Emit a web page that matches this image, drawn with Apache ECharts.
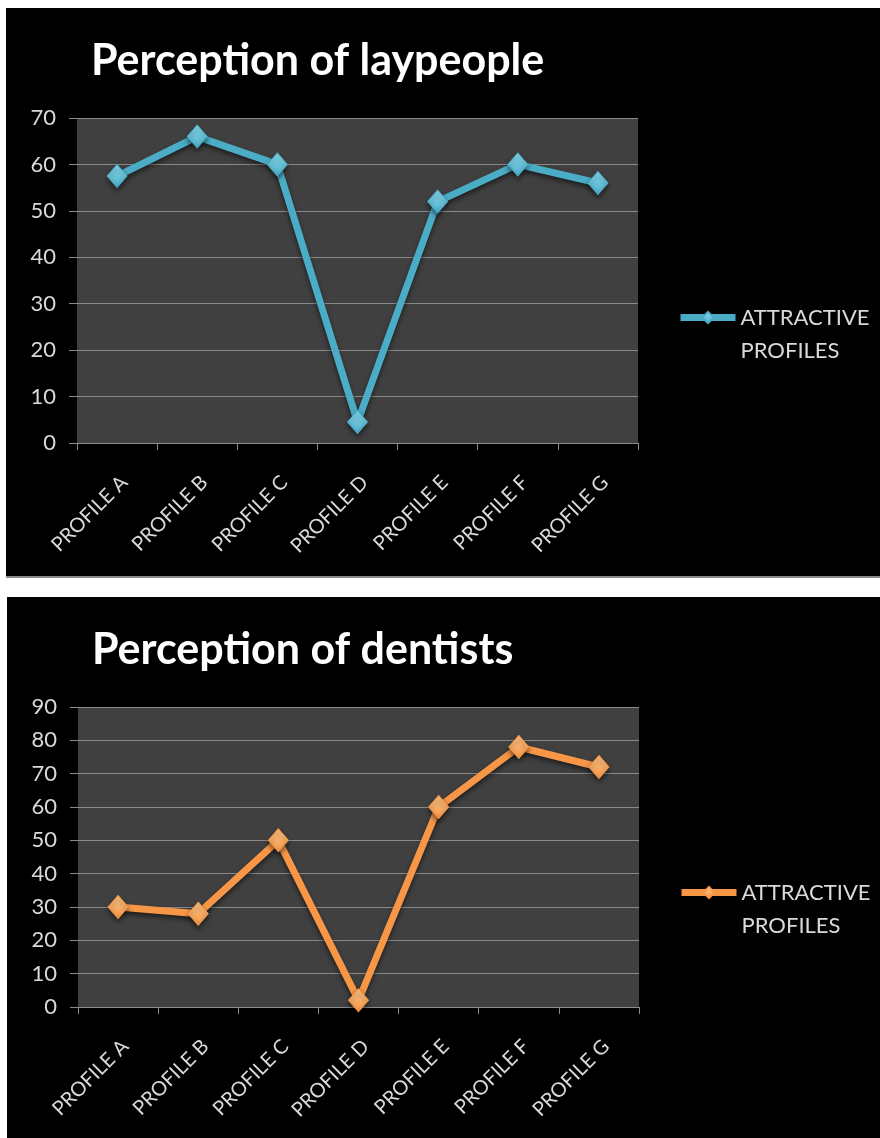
<!DOCTYPE html>
<html>
<head>
<meta charset="utf-8">
<script src="https://cdn.jsdelivr.net/npm/echarts@6/dist/echarts.min.js"></script>
<style>
  html, body { margin: 0; padding: 0; background: #fff; width: 880px; height: 1138px; overflow: hidden; }
  .panel { position: absolute; background: #000; }
  #lay { left: 6px; top: 8px; width: 874px; height: 568px; border-bottom: 2px solid #8a8a8a; }
  #den { left: 7px; top: 597px; width: 873px; height: 541px; }
</style>
</head>
<body>
<div id="lay" class="panel"></div>
<div id="den" class="panel"></div>
<script>
// Categories shared by both charts
const profiles = ['PROFILE A', 'PROFILE B', 'PROFILE C', 'PROFILE D', 'PROFILE E', 'PROFILE F', 'PROFILE G'];
// Share of respondents rating each profile attractive
const laypeopleValues = [57.5, 66, 60, 4.5, 52, 60, 56];
const dentistValues = [30, 28, 50, 2, 60, 78, 72];
const seriesName = 'ATTRACTIVE\nPROFILES';

const FONT = 'Lato, "Open Sans", sans-serif';

function buildOption(title, values, yMax, lineColor, lightColor, gridH, legendTop) {
  return {
    backgroundColor: '#000',
    animation: false,
    title: {
      text: title,
      left: 80,
      top: 27,
      textStyle: { color: '#fff', fontSize: 43, fontWeight: 'bold', fontFamily: FONT }
    },
    legend: {
      left: 666,
      top: legendTop,
      itemWidth: 55,
      itemHeight: 14,
      data: [seriesName],
      // blank first line keeps the icon level with the first text line
      formatter: (name) => ' \n' + name,
      lineStyle: { width: 7 },
      textStyle: { color: '#d9d9d9', fontSize: 22, fontFamily: FONT, lineHeight: 33 }
    },
    grid: {
      left: 71, top: 110, width: 561, height: gridH,
      show: true, backgroundColor: '#404040', borderWidth: 0
    },
    xAxis: {
      type: 'category',
      data: profiles,
      boundaryGap: true,
      axisLine: { lineStyle: { color: '#8c8c8c', width: 1 } },
      axisTick: { show: true, length: 7, lineStyle: { color: '#8c8c8c' } },
      axisLabel: {
        rotate: 45, verticalAlign: 'top', color: '#d9d9d9', fontSize: 20, fontFamily: FONT,
        margin: 29, interval: 0
      },
      splitLine: { show: false }
    },
    yAxis: {
      type: 'value',
      min: 0, max: yMax, interval: 10,
      axisLine: { show: false },
      axisTick: { show: true, length: 8, lineStyle: { color: '#8c8c8c' } },
      axisLabel: { color: '#d9d9d9', fontSize: 22, fontFamily: FONT, margin: 21 },
      splitLine: { lineStyle: { color: '#8a8a8a', width: 1.2 } }
    },
    series: [{
      name: seriesName,
      type: 'line',
      data: values,
      symbol: 'diamond',
      symbolSize: [20, 23],
      lineStyle: {
        color: lineColor, width: 7,
        shadowColor: 'rgba(0,0,0,0.55)', shadowBlur: 5, shadowOffsetY: 3
      },
      itemStyle: {
        color: {
          type: 'linear', x: 0, y: 0, x2: 0, y2: 1,
          colorStops: [{ offset: 0, color: lightColor }, { offset: 1, color: lineColor }]
        },
        borderColor: lineColor, borderWidth: 1,
        shadowColor: 'rgba(0,0,0,0.5)', shadowBlur: 5, shadowOffsetY: 3
      },
      z: 3
    }]
  };
}

const layChart = echarts.init(document.getElementById('lay'), null, { renderer: 'canvas' });
layChart.setOption(buildOption('Perception of laypeople', laypeopleValues, 70, '#4bacc6', '#8fe0f5', 325, 255));

const denChart = echarts.init(document.getElementById('den'), null, { renderer: 'canvas' });
denChart.setOption(buildOption('Perception of dentists', dentistValues, 90, '#f79646', '#ffc98a', 300, 241));
</script>
</body>
</html>
